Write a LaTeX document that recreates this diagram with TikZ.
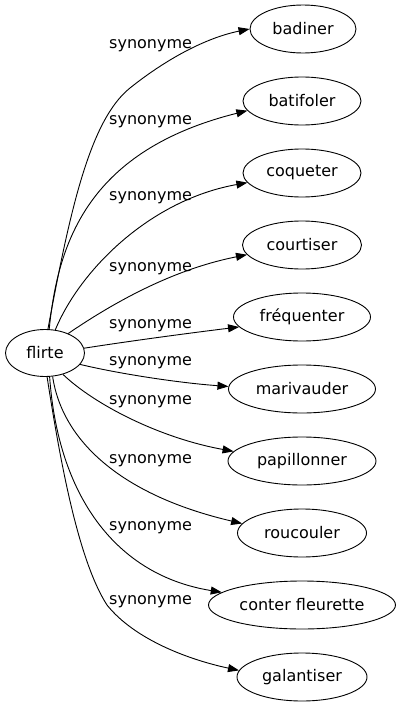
\documentclass[tikz,border=0pt]{standalone}
\usepackage{fontspec}
\setmainfont{DejaVu Sans}
\usetikzlibrary{shapes.geometric,arrows.meta}
\begin{document}
\begin{tikzpicture}[x=1pt,y=-1pt,
  word/.style={draw,ellipse,line width=0.9pt,inner sep=0pt,minimum height=48pt,font=\fontsize{16}{19}\selectfont},
  rel/.style={anchor=base west,inner sep=0pt,font=\fontsize{16}{19}\selectfont},
  link/.style={line width=0.9pt,-{Triangle[length=11pt,width=8pt]}}]
\useasboundingbox (0,0) rectangle (401,707);
\node[word,minimum width=79pt,minimum height=47pt] (flirte) at (45,353) {flirte};
\node[word,minimum width=106pt] (badiner) at (303,29) {badiner};
\node[word,minimum width=118pt] (batifoler) at (302,101) {batifoler};
\node[word,minimum width=118pt] (coqueter) at (302,173) {coqueter};
\node[word,minimum width=119pt] (courtiser) at (302,245) {courtiser};
\node[word,minimum width=137pt] (frequenter) at (302,317) {fréquenter};
\node[word,minimum width=147pt] (marivauder) at (302,389) {marivauder};
\node[word,minimum width=148pt] (papillonner) at (302,461) {papillonner};
\node[word,minimum width=129pt] (roucouler) at (302,533) {roucouler};
\node[word,minimum width=187pt] (conter) at (302,605) {conter fleurette};
\node[word,minimum width=130pt] (galantiser) at (302,677) {galantiser};

\draw[link] (flirte.83) .. controls (70,210) and (90,120) .. (130,88) .. controls (165,60) and (205,38) .. (badiner.180);
\draw[link] (flirte.80) .. controls (58,240) and (90,150) .. (batifoler.190);
\draw[link] (flirte.66) .. controls (80,270) and (150,200) .. (coqueter.190);
\draw[link] (flirte.40) .. controls (110,305) and (170,270) .. (courtiser.190);
\draw[link] (flirte.7) .. controls (130,341) and (190,333) .. (frequenter.189);
\draw[link] (flirte.-18) .. controls (120,374) and (180,383) .. (marivauder.178);
\draw[link] (flirte.-50) .. controls (95,405) and (160,438) .. (papillonner.172);
\draw[link] (flirte.-72) .. controls (62,440) and (120,495) .. (roucouler.171);
\draw[link] (flirte.-79) .. controls (58,495) and (115,575) .. (conter.171);
\draw[link] (flirte.-85) .. controls (60,460) and (78,560) .. (107,605) .. controls (135,640) and (190,660) .. (galantiser.174);

\node[rel] (l1) at (109,48) {synonyme};
\node[rel] (l2) at (109,124) {synonyme};
\node[rel] (l3) at (109,200) {synonyme};
\node[rel] (l4) at (109,271) {synonyme};
\node[rel] (l5) at (109,328) {synonyme};
\node[rel] (l6) at (109,365) {synonyme};
\node[rel] (l7) at (109,404) {synonyme};
\node[rel] (l8) at (109,463) {synonyme};
\node[rel] (l9) at (109,530) {synonyme};
\node[rel] (l10) at (109,604) {synonyme};
\end{tikzpicture}
\end{document}
